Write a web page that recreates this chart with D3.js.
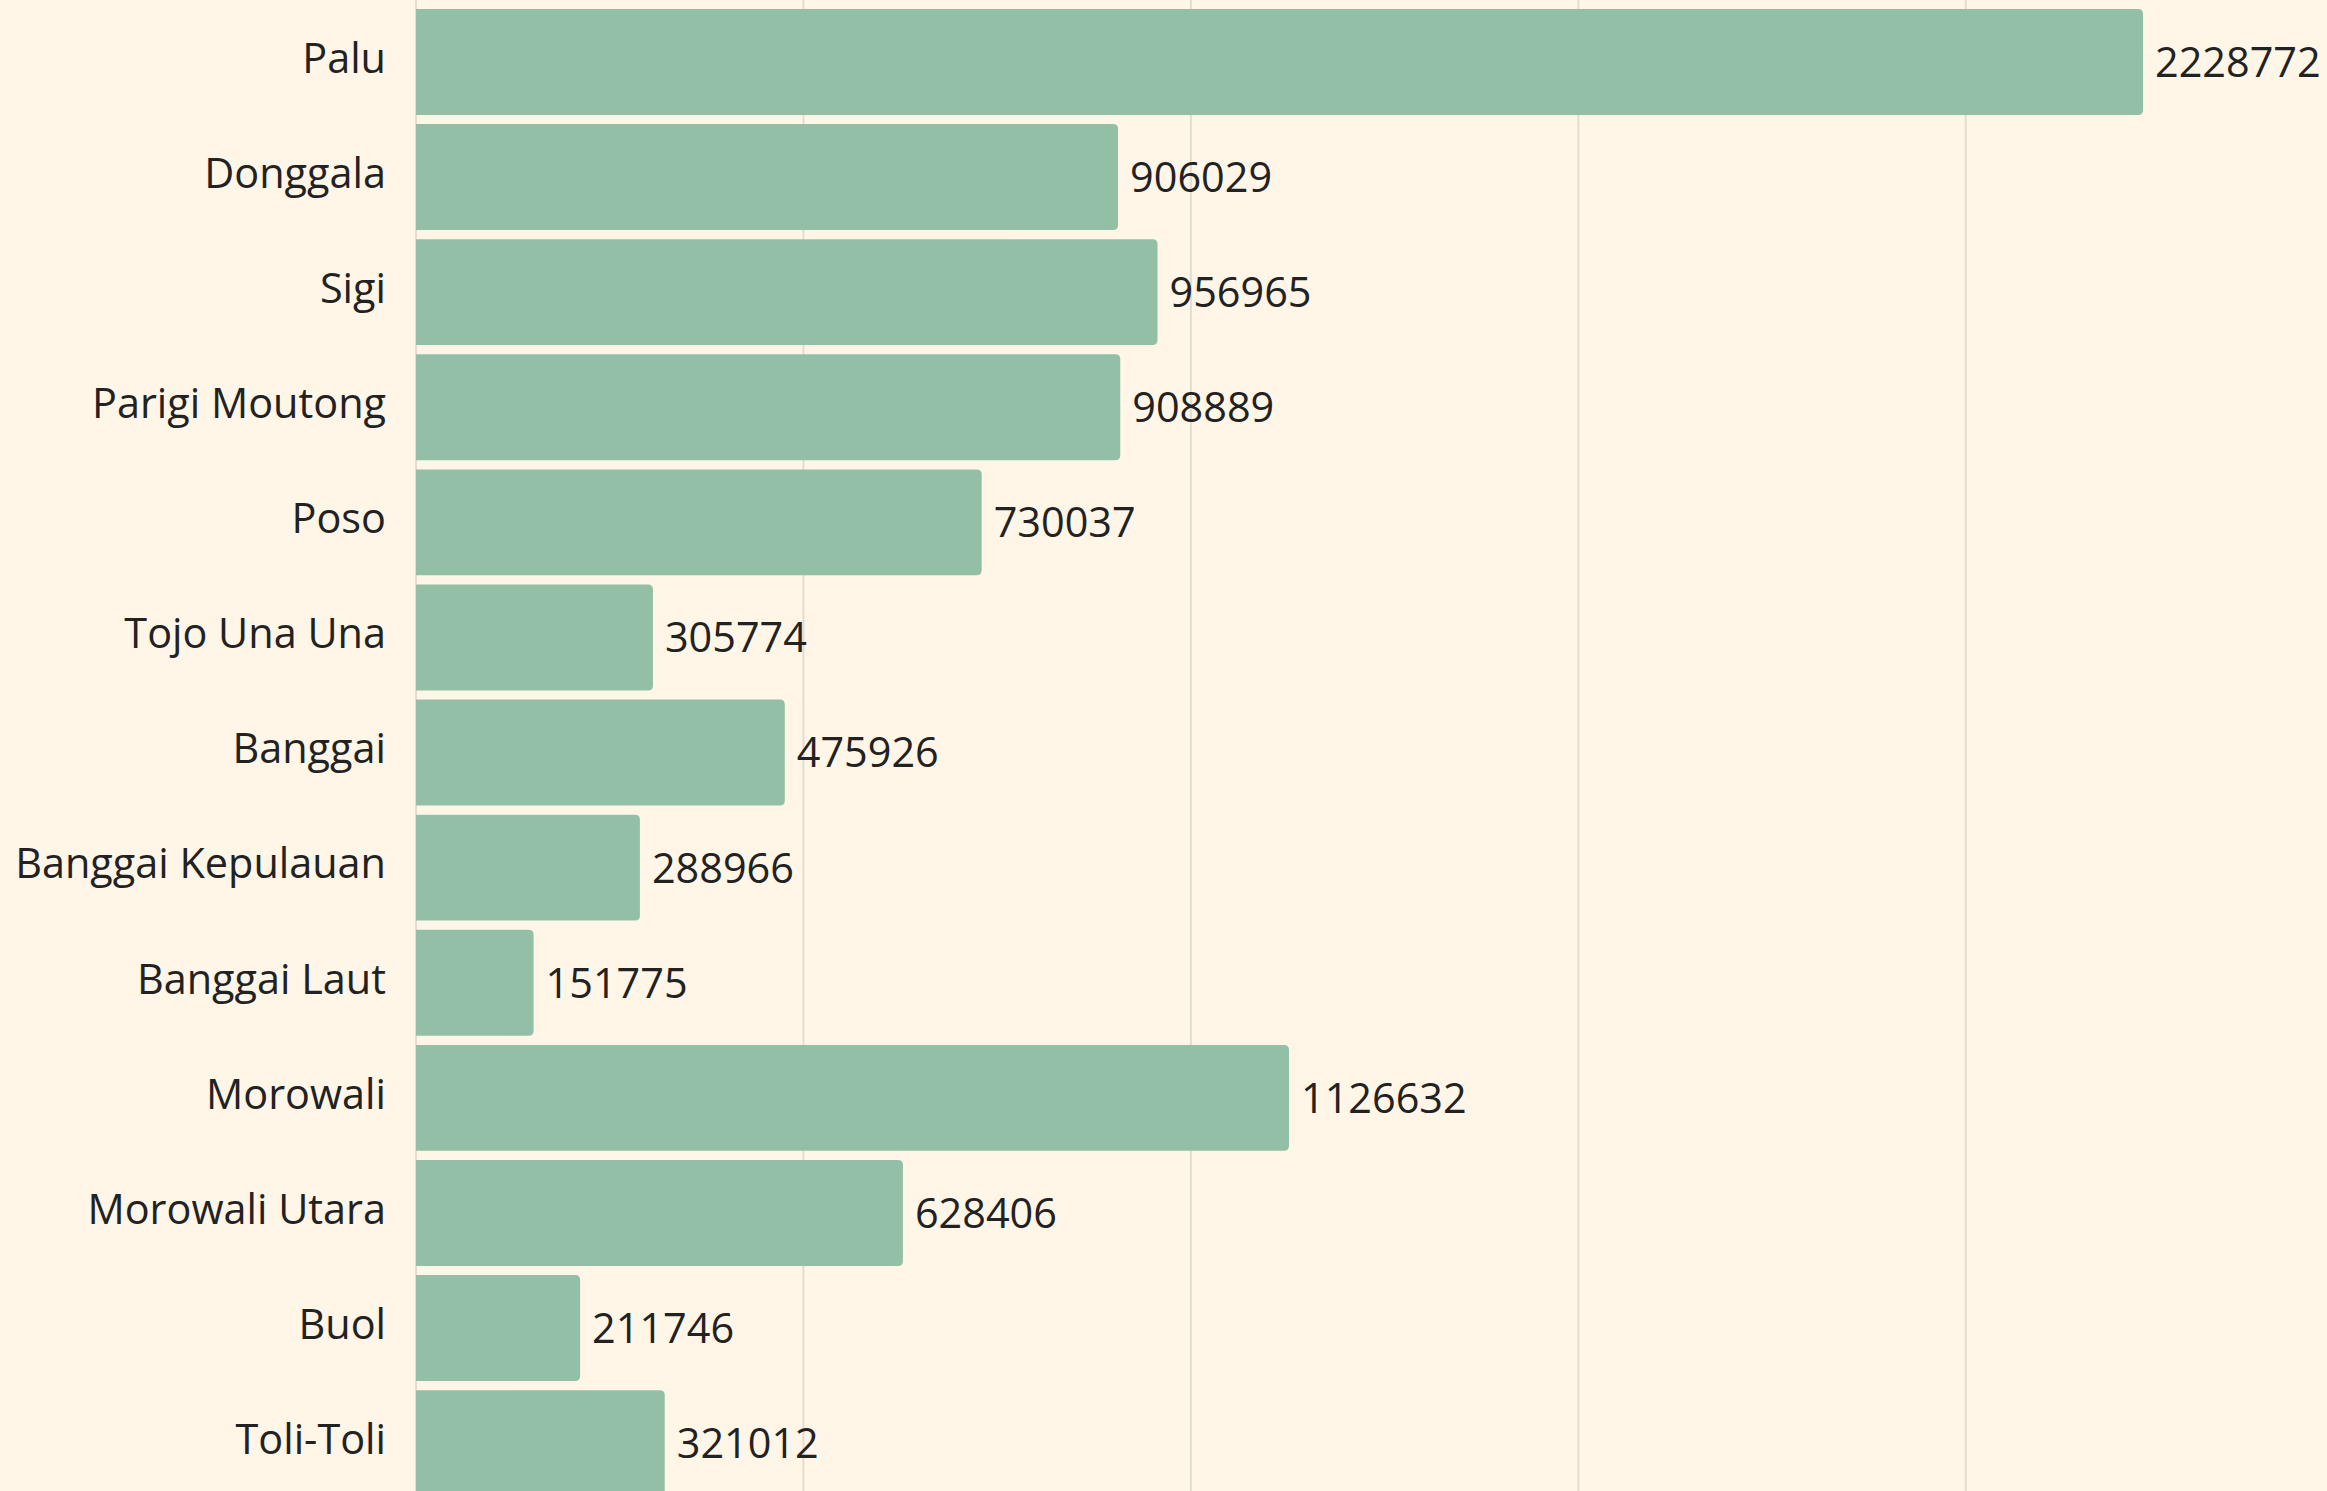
<!DOCTYPE html>
<html>
<head>
<meta charset="utf-8">
<script src="https://cdn.jsdelivr.net/npm/d3@7"></script>
<style>
  html, body { margin: 0; padding: 0; background: #fff6e8; }
  svg { display: block; }
  text { font-family: "Open Sans", sans-serif; fill: #222; }
</style>
</head>
<body>
<svg id="chart" width="2327" height="1491"></svg>
<script>
const categories = ["Palu", "Donggala", "Sigi", "Parigi Moutong", "Poso", "Tojo Una Una", "Banggai",
  "Banggai Kepulauan", "Banggai Laut", "Morowali", "Morowali Utara", "Buol", "Toli-Toli"];
const values = [2228772, 906029, 956965, 908889, 730037, 305774, 475926, 288966, 151775, 1126632, 628406, 211746, 321012];
const tickValues = [0, 500000, 1000000, 1500000, 2000000];

const W = 2327, H = 1491;
const svg = d3.select("#chart");
svg.append("rect").attr("width", W).attr("height", H).attr("fill", "#fff6e8");

const x = d3.scaleLinear().domain([0, d3.max(values)]).range([416, 2143]);
const step = 115.1;
const y = d3.scaleBand().domain(categories)
  .range([9 - 0.04 * step, 9 - 0.04 * step + categories.length * step])
  .paddingInner(0.08).paddingOuter(0.04);

// grid
svg.append("g").selectAll("line").data(tickValues).join("line")
  .attr("x1", d => x(d)).attr("x2", d => x(d))
  .attr("y1", 0).attr("y2", H)
  .attr("stroke", "#e3ddd1").attr("stroke-width", 2);

const data = categories.map((c, i) => ({ c, v: values[i] }));
const r = 5;
function barPath(d) {
  const x0 = x(0), x1 = x(d.v), y0 = y(d.c), h = y.bandwidth(), y1 = y0 + h;
  return `M${x0},${y0}H${x1 - r}Q${x1},${y0} ${x1},${y0 + r}V${y1 - r}Q${x1},${y1} ${x1 - r},${y1}H${x0}Z`;
}
svg.append("g").selectAll("path").data(data).join("path")
  .attr("d", barPath).attr("fill", "#94bfa7");

svg.append("g").selectAll("text").data(data).join("text")
  .attr("x", 386).attr("y", d => y(d.c) + y.bandwidth() / 2)
  .attr("dy", "0.26em").attr("text-anchor", "end")
  .attr("font-size", 41.4).text(d => d.c);

svg.append("g").selectAll("text").data(data).join("text")
  .attr("x", d => x(d.v) + 12).attr("y", d => y(d.c) + y.bandwidth() / 2)
  .attr("dy", "0.36em").attr("text-anchor", "start")
  .attr("font-size", 41.4).text(d => d.v);
</script>
</body>
</html>
